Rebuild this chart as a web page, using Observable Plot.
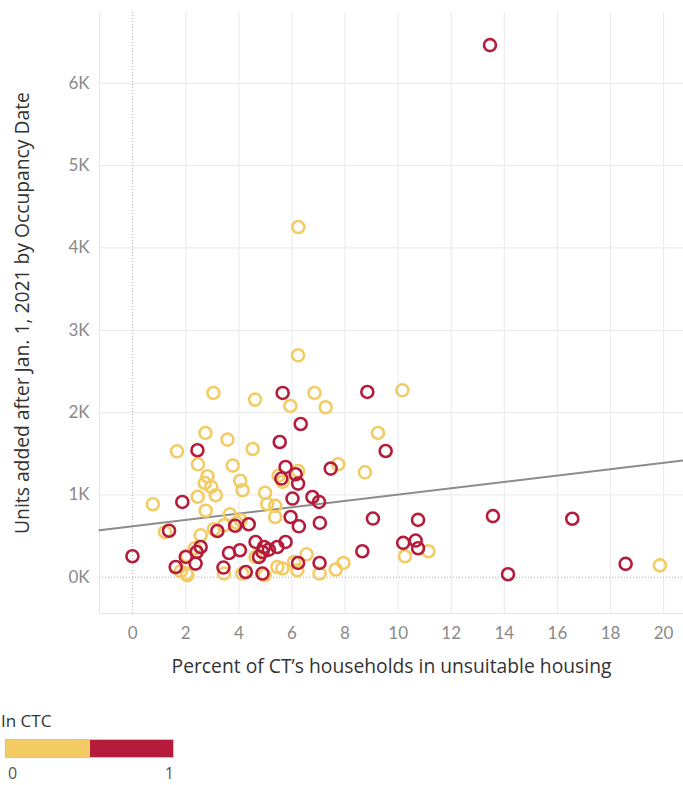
<!DOCTYPE html>
<html>
<head>
<meta charset="utf-8">
<script src="https://cdn.jsdelivr.net/npm/d3@7"></script>
<script src="https://cdn.jsdelivr.net/npm/@observablehq/plot@0.6"></script>
<style>
  body { margin: 0; background: #fff; font-family: "Open Sans", Lato, sans-serif; }
  #chart svg { display: block; }
  #legend { margin-top: 19px; margin-left: 1px; color: #333; }
  #legend .title { font-size: 17px; line-height: 23px; }
  #legend .bar { display: flex; width: 167px; height: 17px; margin-top: 7px; margin-left: 4px; border: 1px solid #c4c4c4; }
  #legend .bar div { flex: 1; }
  #legend .labels { display: flex; justify-content: space-between; width: 166px; margin-left: 7px; font-size: 16px; line-height: 22px; color: #555; margin-top: 4px; }
</style>
</head>
<body>
<div id="chart"></div>
<div id="legend"></div>
<script>
// Not in CTC (value 0)
const notInCtcPct = [6.24, 6.23, 3.04, 6.85, 10.16, 4.61, 5.94, 7.27, 2.74, 3.57, 9.24, 1.67, 4.52, 2.46, 3.77, 7.74, 8.75, 6.23, 5.50, 5.65, 2.82, 2.72, 2.96, 3.13, 4.05, 4.14, 2.45, 4.99, 5.07, 5.37, 5.37, 0.76, 2.75, 3.66, 4.07, 3.92, 3.44, 3.06, 2.56, 1.22, 2.05, 1.81, 2.03, 2.06, 2.34, 3.44, 4.13, 4.63, 4.97, 5.45, 5.64, 6.08, 6.55, 6.20, 7.04, 7.65, 7.94, 10.26, 11.14, 19.86];
const notInCtcUnits = [4255, 2696, 2239, 2239, 2271, 2158, 2081, 2065, 1753, 1672, 1753, 1530, 1558, 1372, 1357, 1372, 1275, 1291, 1233, 1160, 1227, 1145, 1097, 996, 1172, 1057, 978, 1026, 890, 868, 732, 887, 808, 765, 692, 662, 632, 583, 510, 550, 261, 73, 45, 24, 352, 45, 45, 247, 24, 125, 106, 186, 279, 85, 45, 94, 174, 255, 316, 144];
// In CTC (value 1)
const inCtcPct = [13.46, 5.65, 8.84, 6.33, 5.54, 9.53, 2.44, 7.46, 5.76, 6.14, 5.60, 6.23, 6.02, 6.77, 7.02, 1.87, 5.95, 6.26, 7.05, 9.05, 10.75, 13.57, 16.56, 10.19, 10.66, 10.75, 14.14, 18.57, 8.65, 1.37, -0.01, 3.19, 4.37, 3.86, 2.56, 2.41, 2.00, 2.37, 1.62, 3.63, 4.04, 3.42, 4.26, 4.63, 4.95, 5.45, 5.76, 4.76, 4.89, 5.13, 4.89, 6.23, 7.04];
const inCtcUnits = [6464, 2239, 2251, 1862, 1643, 1534, 1543, 1320, 1340, 1251, 1199, 1138, 956, 975, 915, 915, 732, 619, 660, 713, 697, 743, 711, 418, 446, 353, 37, 163, 316, 565, 255, 562, 644, 626, 368, 307, 247, 166, 125, 295, 328, 118, 64, 429, 368, 368, 429, 247, 307, 336, 45, 174, 174];

const ctcCategories = [0, 1];
const ctcColors = ["#f2cc63", "#b51c3c"];
const xTicks = [0, 2, 4, 6, 8, 10, 12, 14, 16, 18, 20];
const yTicks = [0, 1000, 2000, 3000, 4000, 5000, 6000];
const xDomain = [-1.25, 20.75];
const yDomain = [-440, 6860];
const trendIntercept = 619;
const trendSlope = 38.6;
const xTitle = "Percent of CT’s households in unsuitable housing";
const yTitle = "Units added after Jan. 1, 2021 by Occupancy Date";
const legendTitle = "In CTC";

const data = [
  ...notInCtcPct.map((p, i) => ({pct: p, units: notInCtcUnits[i], ctc: 0})),
  ...inCtcPct.map((p, i) => ({pct: p, units: inCtcUnits[i], ctc: 1}))
];

const tickFont = "Lato, 'Open Sans', sans-serif";
const titleFont = "'Open Sans', Lato, sans-serif";

const chart = Plot.plot({
  width: 683,
  height: 690,
  marginTop: 12,
  marginBottom: 77,
  marginLeft: 99,
  marginRight: 0,
  style: {fontFamily: tickFont, background: "#fff"},
  x: {domain: xDomain},
  y: {domain: yDomain},
  color: {domain: ctcCategories, range: ctcColors, type: "ordinal"},
  marks: [
    Plot.gridX(xTicks.filter(d => d !== 0), {stroke: "#ececec", strokeOpacity: 1, strokeWidth: 1.2}),
    Plot.gridY(yTicks.filter(d => d !== 0), {stroke: "#ececec", strokeOpacity: 1, strokeWidth: 1.2}),
    Plot.ruleX([xDomain[0]], {stroke: "#e6e6e6"}),
    Plot.ruleY([yDomain[0]], {stroke: "#e6e6e6"}),
    Plot.ruleX([0], {stroke: "#b0b0b0", strokeDasharray: "1,2"}),
    Plot.ruleY([0], {stroke: "#b0b0b0", strokeDasharray: "1,2"}),
    Plot.axisX(xTicks, {tickSize: 0, tickPadding: 13, fontSize: 17, fill: "#8a8a8a", label: null}),
    Plot.axisY(yTicks, {tickSize: 0, tickPadding: 10, fontSize: 17, fill: "#8a8a8a", label: null, tickFormat: d => (d / 1000) + "K"}),
    Plot.line(xDomain, {x: d => d, y: d => trendIntercept + trendSlope * d, stroke: "#8c8c8c", strokeWidth: 2}),
    Plot.dot(data, {x: "pct", y: "units", stroke: "ctc", r: 6, strokeWidth: 2.6, fill: "none"}),
    Plot.text([xTitle], {frameAnchor: "bottom", dy: 59, fontSize: 19.3, fontFamily: titleFont, fill: "#333"}),
    Plot.text([yTitle], {frameAnchor: "left", rotate: -90, dx: -77, fontSize: 19.3, fontFamily: titleFont, fill: "#333", textAnchor: "middle"})
  ]
});
document.getElementById("chart").appendChild(chart);

const legend = document.getElementById("legend");
legend.innerHTML = `<div class="title">${legendTitle}</div>
  <div class="bar">${ctcColors.map(c => `<div style="background:${c}"></div>`).join("")}</div>
  <div class="labels">${ctcCategories.map(c => `<span>${c}</span>`).join("")}</div>`;
</script>
</body>
</html>
